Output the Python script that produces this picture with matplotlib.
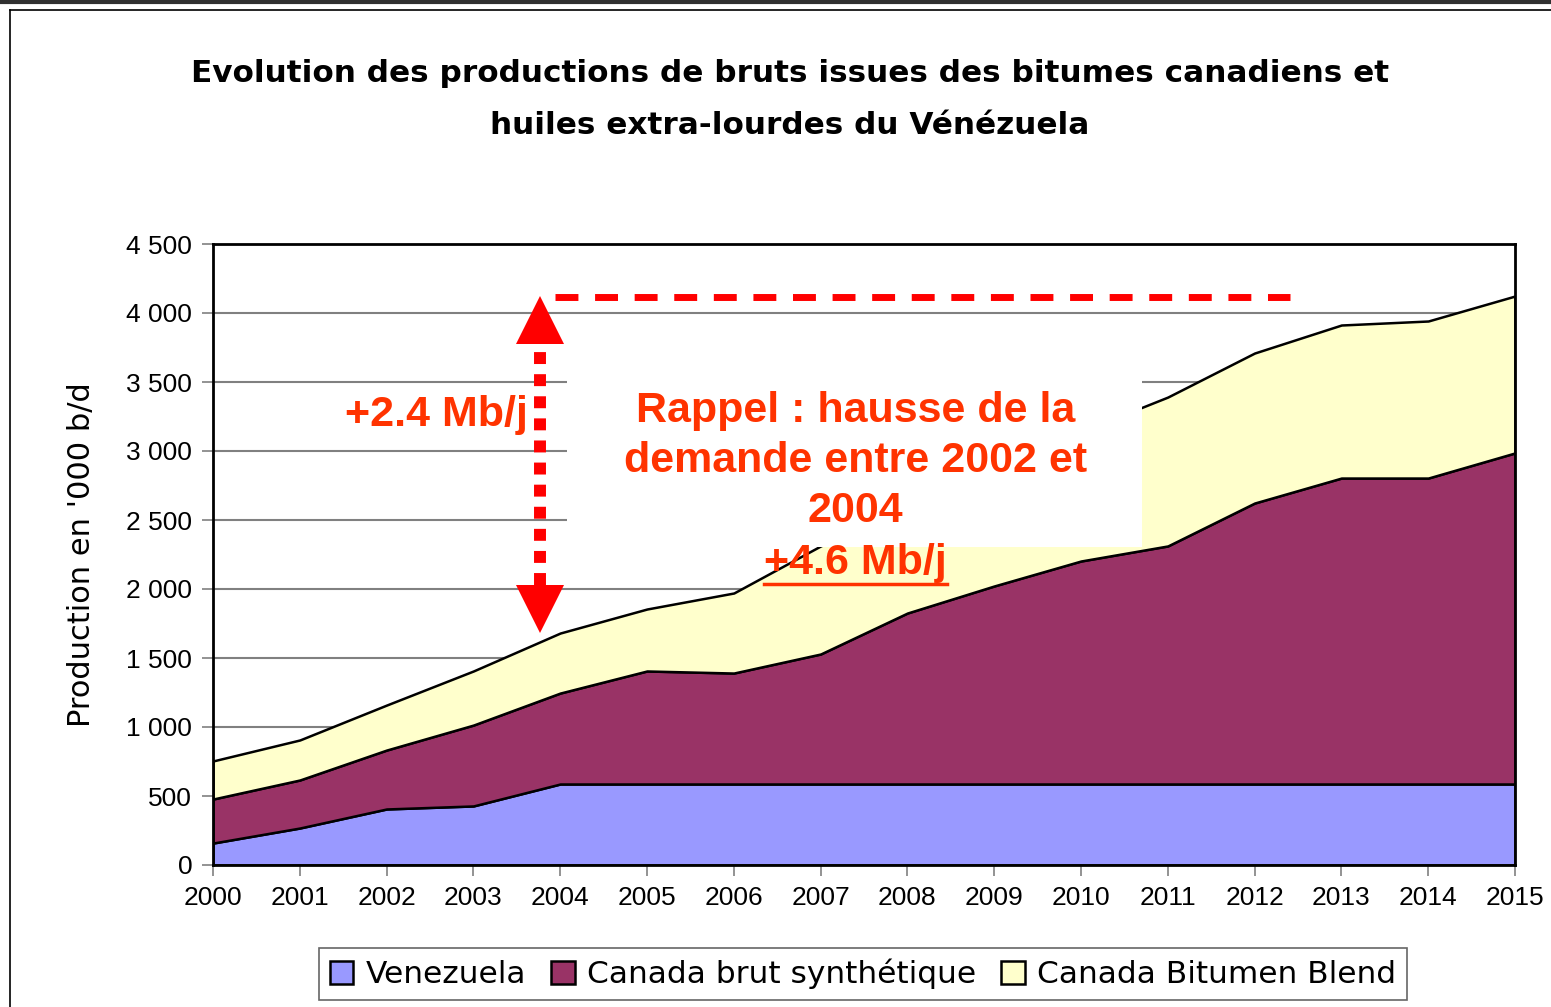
import matplotlib
matplotlib.use("Agg")
import matplotlib.pyplot as plt
from matplotlib.patches import Rectangle
from matplotlib.lines import Line2D
import numpy as np

# data ('000 b/d)
years = list(range(2000, 2016))
venezuela = [159, 268, 406, 428, 587, 587, 587, 587, 587, 587, 587, 587, 587, 587, 587, 587]
canada_synth = [319, 348, 427, 586, 659, 819, 804, 942, 1239, 1435, 1616, 1725, 2036, 2217, 2217, 2399]
canada_bitumen = [276, 290, 326, 392, 435, 449, 580, 783, 774, 878, 937, 1079, 1087, 1109, 1138, 1137]
labels = ["Venezuela", "Canada brut synthétique", "Canada Bitumen Blend"]
colors = ["#9999FF", "#993366", "#FFFFCC"]
yticks = [0, 500, 1000, 1500, 2000, 2500, 3000, 3500, 4000, 4500]

title = "Evolution des productions de bruts issues des bitumes canadiens et\nhuiles extra-lourdes du Vénézuela"
orange = "#FF3300"

fig = plt.figure(figsize=(15.51, 10.07), dpi=100)
ax = fig.add_axes([213/1551, 1-865/1007, (1515-213)/1551, (865-244)/1007])

polys = ax.stackplot(years, venezuela, canada_synth, canada_bitumen,
                     colors=colors, edgecolor="black", linewidth=1.8, labels=labels, zorder=2)

ax.set_xlim(2000, 2015)
ax.set_ylim(0, 4500)
ax.set_xticks(years)
ax.set_yticks(yticks)
ax.set_yticklabels([f"{v:,}".replace(",", " ") for v in yticks])
ax.yaxis.grid(True, color="#808080", linewidth=1.5, zorder=0)
ax.set_axisbelow(True)
ax.tick_params(axis="both", direction="out", length=8, width=1.2, color="#808080",
               labelsize=19, pad=7)
for lab in ax.get_xticklabels() + ax.get_yticklabels():
    lab.set_fontfamily("Liberation Sans")
for s in ax.spines.values():
    s.set_linewidth(2)
    s.set_color("black")

ax.set_ylabel("Production en '000 b/d", fontsize=22, family="DejaVu Sans", labelpad=22)

# white box behind the annotation text
ax.add_patch(Rectangle((2004.08, 2304), 6.62, 1400, facecolor="white", edgecolor="none", zorder=3))

ax.text(2007.40, 2928, "Rappel : hausse de la\ndemande entre 2002 et\n2004", ha="center", va="center",
        fontsize=31, fontweight="bold", color=orange, family="Liberation Sans", linespacing=1.33, zorder=4)
t46 = ax.text(2007.40, 2188, "+4.6 Mb/j", ha="center", va="center",
              fontsize=31, fontweight="bold", color=orange, family="Liberation Sans", zorder=4)
ax.text(2003.63, 3260, "+2.4 Mb/j", ha="right", va="center",
        fontsize=31, fontweight="bold", color=orange, family="Liberation Sans", zorder=4)

# red dashed reference line and double arrow
ax.plot([2003.94, 2012.41], [4116, 4116], color="red", linewidth=5, linestyle=(0, (3.3, 2.4)),
        solid_capstyle="butt", zorder=5, clip_on=False)
ax.plot([2003.77, 2003.77], [2029, 3783], color="red", linewidth=8.6, linestyle=(0, (1, 0.85)), zorder=5)
ax.plot([2003.77], [3949], marker="^", markersize=34, color="red", markeredgewidth=0, zorder=5)
ax.plot([2003.77], [1855], marker="v", markersize=34, color="red", markeredgewidth=0, zorder=5)

fig.text(790/1551, 1-99/1007, title, ha="center", va="center", fontsize=22.4, fontweight="bold",
         family="DejaVu Sans", linespacing=2.0)

leg = fig.legend(handles=polys, labels=labels, loc="center", bbox_to_anchor=(863/1551, 1-974/1007),
                 ncol=3, prop={"family": "DejaVu Sans", "size": 22.5}, frameon=True, fancybox=False,
                 handlelength=0.75, handleheight=0.75, handletextpad=0.4, columnspacing=0.8, borderpad=0.35)
leg.get_frame().set_edgecolor("#404040")
leg.get_frame().set_linewidth(1.2)

# outer frame lines
fig.add_artist(Line2D([0, 1], [1-1.5/1007, 1-1.5/1007], color="#303030", linewidth=3, transform=fig.transFigure))
fig.add_artist(Line2D([10/1551, 1], [1-10/1007, 1-10/1007], color="black", linewidth=1.2, transform=fig.transFigure))
fig.add_artist(Line2D([10/1551, 10/1551], [0, 1-10/1007], color="black", linewidth=1.2, transform=fig.transFigure))

# underline for +4.6 Mb/j
fig.canvas.draw()
bb = t46.get_window_extent()
y_ul = bb.y0 - 1
fig.add_artist(Line2D([bb.x0, bb.x1], [y_ul, y_ul], color=orange, linewidth=2.5,
                      transform=None, zorder=6))

fig.savefig("out.png", dpi=100)
